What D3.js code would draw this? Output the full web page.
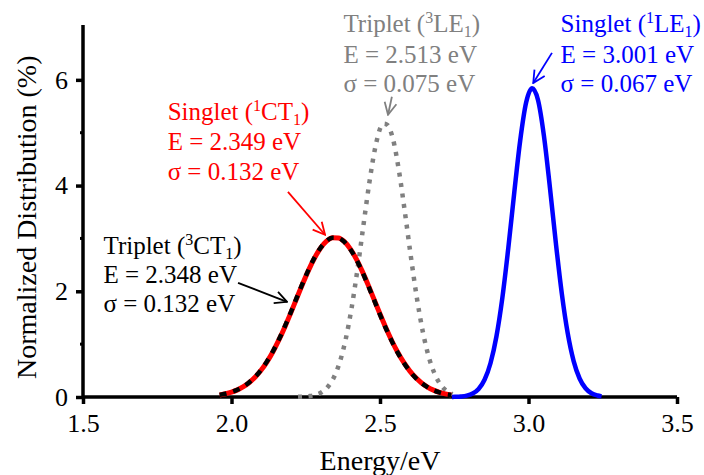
<!DOCTYPE html>
<html><head><meta charset="utf-8">
<script src="https://cdn.jsdelivr.net/npm/d3@7"></script>
<style>body{margin:0;background:#fff}svg{display:block}text{font-family:"Liberation Serif","Times New Roman",serif}</style>
</head><body><svg id="c" width="704" height="475"></svg>
<script>
// Energies (eV) and normalized distribution values (%)
const redX = [1.96,1.98,2.00,2.02,2.04,2.06,2.08,2.10,2.12,2.14,2.16,2.18,2.20,2.22,2.24,2.26,2.28,2.30,2.32,2.34,2.36,2.38,2.40,2.42,2.44,2.46,2.48,2.50,2.52,2.54,2.56,2.58,2.60,2.62,2.64,2.66,2.68,2.70,2.72,2.74];
const redY = [0.039,0.061,0.092,0.135,0.195,0.275,0.379,0.510,0.671,0.862,1.084,1.331,1.597,1.874,2.148,2.406,2.634,2.819,2.948,3.013,3.009,2.938,2.803,2.613,2.381,2.121,1.846,1.570,1.305,1.060,0.842,0.653,0.495,0.367,0.266,0.188,0.130,0.088,0.058,0.038];
const blackX = [1.96,1.98,2.00,2.02,2.04,2.06,2.08,2.10,2.12,2.14,2.16,2.18,2.20,2.22,2.24,2.26,2.28,2.30,2.32,2.34,2.36,2.38,2.40,2.42,2.44,2.46,2.48,2.50,2.52,2.54,2.56,2.58,2.60,2.62,2.64,2.66,2.68,2.70,2.72,2.74];
const blackY = [0.040,0.062,0.094,0.137,0.198,0.279,0.384,0.516,0.678,0.870,1.093,1.341,1.607,1.884,2.157,2.414,2.640,2.823,2.950,3.013,3.006,2.933,2.796,2.605,2.372,2.111,1.836,1.560,1.296,1.052,0.835,0.647,0.490,0.363,0.263,0.186,0.128,0.087,0.057,0.037];
const grayX = [2.224,2.244,2.264,2.284,2.304,2.324,2.344,2.364,2.384,2.404,2.424,2.444,2.464,2.484,2.504,2.514,2.524,2.544,2.564,2.584,2.604,2.624,2.644,2.664,2.684,2.704,2.724,2.744];
const grayY = [0.003,0.007,0.018,0.042,0.092,0.190,0.364,0.649,1.080,1.671,2.411,3.238,4.051,4.720,5.122,5.170,5.150,4.874,4.273,3.489,2.654,1.879,1.240,0.762,0.436,0.232,0.115,0.053];
const blueX = [2.742,2.752,2.772,2.792,2.812,2.832,2.852,2.872,2.892,2.912,2.932,2.952,2.972,2.992,3.012,3.032,3.052,3.072,3.092,3.112,3.132,3.152,3.172,3.192,3.212,3.232,3.246];
const blueY = [0.001,0.003,0.009,0.025,0.065,0.152,0.326,0.639,1.145,1.878,2.817,3.865,4.851,5.570,5.840,5.619,4.939,3.970,2.919,1.964,1.208,0.680,0.350,0.165,0.071,0.028,0.012];

const xTicks = [1.5,2.0,2.5,3.0,3.5];
const yTicks = [0,2,4,6];
const yMinor = [1,3,5];

// annotation texts and arrows (energy, %)
const labels = [
  {x:2.377, y:[6.91,6.32,5.77], color:"#808080", name:["Triplet (","3","LE","1",")"], lines:["E = 2.513 eV","σ = 0.075 eV"]},
  {x:3.108, y:[6.91,6.32,5.77], color:"#0000ff", name:["Singlet (","1","LE","1",")"], lines:["E = 3.001 eV","σ = 0.067 eV"]},
  {x:1.785, y:[5.24,4.68,4.11], color:"#ff0000", name:["Singlet (","1","CT","1",")"], lines:["E = 2.349 eV","σ = 0.132 eV"]},
  {x:1.569, y:[2.70,2.15,1.60], color:"#000000", name:["Triplet (","3","CT","1",")"], lines:["E = 2.348 eV","σ = 0.132 eV"]}
];
const arrows = [
  {x1:2.190,y1:3.88,x2:2.315,y2:3.07,color:"#ff0000"},
  {x1:2.022,y1:2.16,x2:2.187,y2:1.80,color:"#000000"},
  {x1:2.540,y1:5.68,x2:2.527,y2:5.34,color:"#808080"},
  {x1:3.079,y1:6.51,x2:3.016,y2:5.94,color:"#0000ff"}
];

const svg = d3.select("#c");
const x = d3.scaleLinear().domain([1.5,3.5]).range([83,677]);
const y = d3.scaleLinear().domain([0,7]).range([397,27]);

// axes
const xAxis = svg.append("g").attr("transform","translate(0,397)")
  .call(d3.axisBottom(x).tickValues(xTicks).tickFormat(d3.format(".1f")).tickSize(7).tickPadding(10));
const yAxis = svg.append("g").attr("transform","translate(83,0)")
  .call(d3.axisLeft(y).tickValues(yTicks).tickFormat(d3.format("d")).tickSize(7).tickPadding(8));
[xAxis,yAxis].forEach(a=>{
  a.select(".domain").remove();
  a.selectAll(".tick line").attr("stroke","#000").attr("stroke-width",3.5);
  a.selectAll(".tick text").attr("font-size",26).attr("fill","#000").attr("font-family","Liberation Serif");
});
xAxis.selectAll(".tick text").attr("dy","0.71em");
svg.append("g").selectAll("line").data(yMinor).join("line")
  .attr("x1",80).attr("x2",83).attr("y1",d=>y(d)).attr("y2",d=>y(d)).attr("stroke","#000").attr("stroke-width",3);
svg.append("line").attr("x1",x(1.5)).attr("x2",x(3.5)).attr("y1",397).attr("y2",397).attr("stroke","#000").attr("stroke-width",3.5);
svg.append("line").attr("x1",83).attr("x2",83).attr("y1",y(0)+1.75).attr("y2",y(7)-2).attr("stroke","#000").attr("stroke-width",3.5);

svg.append("text").attr("x",x(2.5)).attr("y",470).attr("text-anchor","middle").attr("font-size",28).text("Energy/eV");
svg.append("text").attr("transform",`translate(36,${y(3.4)}) rotate(-90)`).attr("text-anchor","middle").attr("font-size",28).text("Normalized Distribution (%)");

// curves
const line = d3.line().x(d=>x(d[0])).y(d=>y(d[1])).curve(d3.curveMonotoneX);
const zip = (a,b)=>a.map((v,i)=>[v,b[i]]);
svg.append("path").attr("d",line(zip(grayX,grayY))).attr("fill","none").attr("stroke","#808080").attr("stroke-width",4.5).attr("stroke-dasharray","4,6.5");
svg.append("path").attr("d",line(zip(blueX,blueY))).attr("fill","none").attr("stroke","#0000ff").attr("stroke-width",4.5);
svg.append("path").attr("d",line(zip(redX,redY))).attr("fill","none").attr("stroke","#ff0000").attr("stroke-width",5);
svg.append("path").attr("d",line(zip(blackX,blackY))).attr("fill","none").attr("stroke","#000").attr("stroke-width",4.5).attr("stroke-dasharray","7,7");

// arrows
const defs = svg.append("defs");
arrows.forEach((a,i)=>{
  defs.append("marker").attr("id","m"+i).attr("viewBox","0 0 14 14").attr("refX",13).attr("refY",7)
    .attr("markerWidth",14).attr("markerHeight",14).attr("markerUnits","userSpaceOnUse").attr("orient","auto")
    .append("path").attr("d","M1,1 L13,7 L1,13").attr("fill","none").attr("stroke",a.color).attr("stroke-width",1.8);
  svg.append("line").attr("x1",x(a.x1)).attr("y1",y(a.y1)).attr("x2",x(a.x2)).attr("y2",y(a.y2))
    .attr("stroke",a.color).attr("stroke-width",1.8).attr("marker-end",`url(#m${i})`);
});

// labels
labels.forEach(l=>{
  const t = svg.append("text").attr("x",x(l.x)).attr("y",y(l.y[0])).attr("font-size",25).attr("fill",l.color);
  t.append("tspan").text(l.name[0]);
  t.append("tspan").attr("dy",-9).attr("font-size",16).text(l.name[1]);
  t.append("tspan").attr("dy",9).text(l.name[2]);
  t.append("tspan").attr("dy",5).attr("font-size",16).text(l.name[3]);
  t.append("tspan").attr("dy",-5).text(l.name[4]);
  l.lines.forEach((s,k)=>svg.append("text").attr("x",x(l.x)).attr("y",y(l.y[k+1])).attr("font-size",25).attr("fill",l.color).text(s));
});
</script></body></html>
